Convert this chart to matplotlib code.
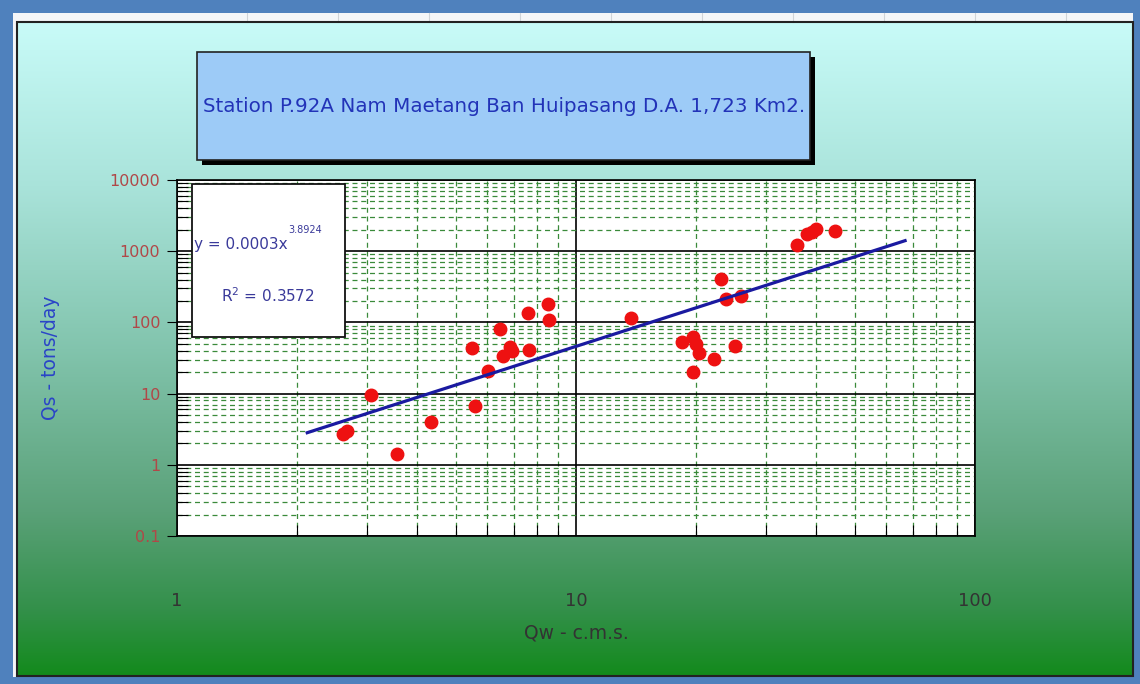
import numpy as np
import matplotlib.pyplot as plt
from matplotlib.colors import LinearSegmentedColormap
from matplotlib.patches import Rectangle
from matplotlib.ticker import LogLocator, FixedLocator, FixedFormatter, NullFormatter

# data
qw = [2.61, 2.67, 3.06, 3.56, 4.33, 5.49, 5.58, 6.02, 6.45, 6.56, 6.83, 6.90,
      7.64, 7.60, 8.49, 8.57, 13.7, 18.4, 19.7, 19.95, 20.3, 19.7, 22.2, 25.1,
      23.1, 23.7, 25.9, 35.9, 38.0, 39.0, 40.0, 44.6]
qs = [2.73, 3.01, 9.7, 1.43, 4.03, 43, 6.8, 21.1, 79.8, 33.2, 44.9, 40,
      41.3, 137, 179, 107, 116, 52.8, 62, 49, 37, 20, 30.8, 46.4,
      403, 211, 234, 1216, 1735, 1870, 2020, 1932]

trend_coef = 0.73
trend_exp = 1.80
trend_range = [2.12, 66.8]

y_ticks = [0.1, 1, 10, 100, 1000, 10000]
y_tick_labels = ['0.1', '1', '10', '100', '1000', '10000']
x_ticks = [1, 10, 100]
x_tick_labels = ['1', '10', '100']

title = 'Station P.92A Nam Maetang Ban Huipasang D.A. 1,723 Km2.'
eq_text = 'y = 0.0003x'
eq_exp = '3.8924'
r2_text = 'R$^{2}$ = 0.3572'

plt.rcParams['font.family'] = ['DejaVu Sans']
plt.rcParams['mathtext.default'] = 'regular'

W, H = 1140, 684
fig = plt.figure(figsize=(W / 100, H / 100), dpi=100)
fig.patch.set_facecolor('#4f81bd')

# background: frame, white strip, gradient chart area
bg = fig.add_axes([0, 0, 1, 1], zorder=-10)
bg.set_xlim(0, W)
bg.set_ylim(H, 0)
bg.axis('off')
bg.add_patch(Rectangle((13, 13), W - 20, H - 20, facecolor='#f4f6f8', edgecolor='none'))
for gx in [247, 338, 429, 520, 611, 702, 793, 884, 975, 1066]:
    bg.plot([gx, gx], [13, 22], color='#d0d4d8', lw=0.8)
grad = LinearSegmentedColormap.from_list('g', [
    (0.0, '#c8fbf8'), (0.25, '#a9e3da'), (0.5, '#82c4ad'),
    (0.75, '#5aa178'), (0.9, '#33904a'), (1.0, '#138a1c')])
bg.imshow(np.linspace(0, 1, 256).reshape(-1, 1), cmap=grad, aspect='auto',
          extent=(17, 1133, 676, 22), zorder=1)
bg.add_patch(Rectangle((17, 22), 1116, 654, facecolor='none',
                       edgecolor='#222222', lw=1.5, zorder=2))

# main plot
ax = fig.add_axes([177 / W, 1 - 536 / H, 798 / W, 356 / H])
ax.set_facecolor('white')
ax.set_xscale('log')
ax.set_yscale('log')
ax.set_xlim(1, 100)
ax.set_ylim(0.1, 10000)

ax.xaxis.set_major_locator(FixedLocator(x_ticks))
ax.xaxis.set_major_formatter(FixedFormatter(x_tick_labels))
ax.yaxis.set_major_locator(FixedLocator(y_ticks))
ax.yaxis.set_major_formatter(FixedFormatter(y_tick_labels))
ax.xaxis.set_minor_locator(LogLocator(base=10, subs=np.arange(2, 10)))
ax.yaxis.set_minor_locator(LogLocator(base=10, subs=np.arange(2, 10)))
ax.xaxis.set_minor_formatter(NullFormatter())
ax.yaxis.set_minor_formatter(NullFormatter())

ax.grid(which='minor', color='#3a8a3a', linestyle=(0, (4, 3)), lw=0.9)
ax.grid(which='major', color='black', linestyle='-', lw=1.2)
ax.set_axisbelow(True)

ax.tick_params(which='major', direction='out', length=7, color='black')
ax.tick_params(which='minor', direction='in', length=8, color='black', width=0.8)
ax.tick_params(axis='y', which='major', labelsize=11.5, labelcolor='#b04848', pad=5)
ax.tick_params(axis='x', which='major', labelsize=13, labelcolor='#333333', pad=40, length=0)
for s in ax.spines.values():
    s.set_color('black')
    s.set_linewidth(1.2)

ax.plot(qw, qs, 'o', color='#ee1111', ms=9, zorder=3)
tx = np.geomspace(trend_range[0], trend_range[1], 50)
ax.plot(tx, trend_coef * tx ** trend_exp, color='#1a1aa0', lw=2.3, zorder=4)

ax.set_xlabel('Qw - c.m.s.', fontsize=13.5, color='#333333', labelpad=10)
ax.set_ylabel('Qs - tons/day', fontsize=13.5, color='#2a44c8')
ax.yaxis.set_label_coords(-0.147, 0.5)

# overlay: title box and equation box
ov = fig.add_axes([0, 0, 1, 1], zorder=5)
ov.patch.set_visible(False)
ov.set_xlim(0, W)
ov.set_ylim(H, 0)
ov.axis('off')

ov.add_patch(Rectangle((202, 57), 613, 108, facecolor='black', edgecolor='none'))
ov.add_patch(Rectangle((197, 52), 613, 108, facecolor='#9dcbf7',
                       edgecolor='#222222', lw=1.2))
ov.text(504, 106, title, ha='center', va='center', fontsize=14.3, color='#2233b8')

ov.add_patch(Rectangle((192, 184), 153, 153, facecolor='white',
                       edgecolor='#111111', lw=1.3))
ov.text(194, 245, eq_text, ha='left', va='center', fontsize=11, color='#3a3a9a')
ov.text(288, 230, eq_exp, ha='left', va='center', fontsize=7, color='#3a3a9a')
ov.text(268, 296, r2_text, ha='center', va='center', fontsize=11, color='#3a3a9a')

fig.savefig('out.png', dpi=100)
